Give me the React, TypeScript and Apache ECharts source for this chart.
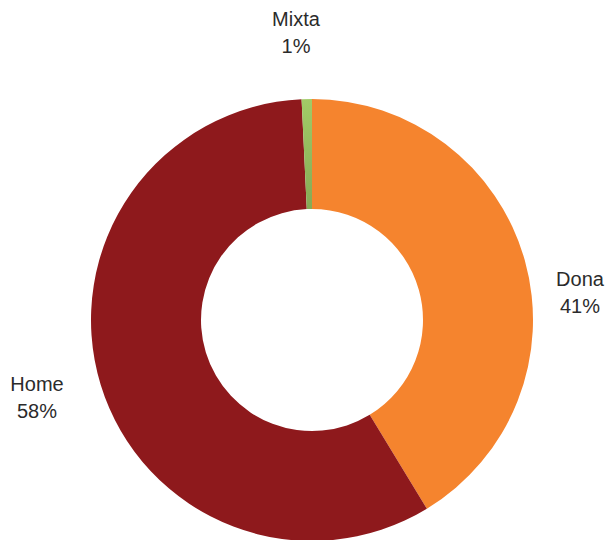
import React, { useEffect, useRef } from "react";
import * as echarts from "echarts";

const categories = ["Dona", "Home", "Mixta"];
const values = [41.3, 57.95, 0.75];
const percentLabels = ["41%", "58%", "1%"];
const colors: any[] = [
  "#F5842E",
  "#8E191C",
  {
    type: "linear",
    x: 0,
    y: 0,
    x2: 0,
    y2: 1,
    colorStops: [
      { offset: 0, color: "#A2CB67" },
      { offset: 1, color: "#86A955" },
    ],
  },
];
const labelPos = [
  [580, 292],
  [37, 397],
  [296, 32],
];

export default function App() {
  const ref = useRef<HTMLDivElement>(null);
  useEffect(() => {
    if (!ref.current) return;
    const chart = echarts.init(ref.current, null, { renderer: "svg" });
    chart.setOption({
      animation: false,
      backgroundColor: "#ffffff",
      series: [
        {
          type: "pie",
          center: [312, 320],
          radius: [111, 221],
          startAngle: 90,
          clockwise: true,
          silent: true,
          emphasis: { disabled: true },
          data: categories.map((c, i) => ({
            name: c,
            value: values[i],
            itemStyle: { color: colors[i] },
            label: { formatter: c + "\n" + percentLabels[i] },
          })),
          label: {
            show: true,
            position: "outside",
            overflow: "none",
            fontFamily: "Liberation Sans, Arial, sans-serif",
            fontSize: 20,
            lineHeight: 27,
            color: "#2b2b2b",
            align: "center",
          },
          labelLine: { show: false },
          labelLayout: (params: any) => ({
            x: labelPos[params.dataIndex][0],
            y: labelPos[params.dataIndex][1],
            align: "center",
            verticalAlign: "middle",
          }),
        },
      ],
    });
    return () => chart.dispose();
  }, []);
  return (
    <div
      ref={ref}
      style={{ position: "fixed", left: 0, top: 0, width: 606, height: 540 }}
    />
  );
}
